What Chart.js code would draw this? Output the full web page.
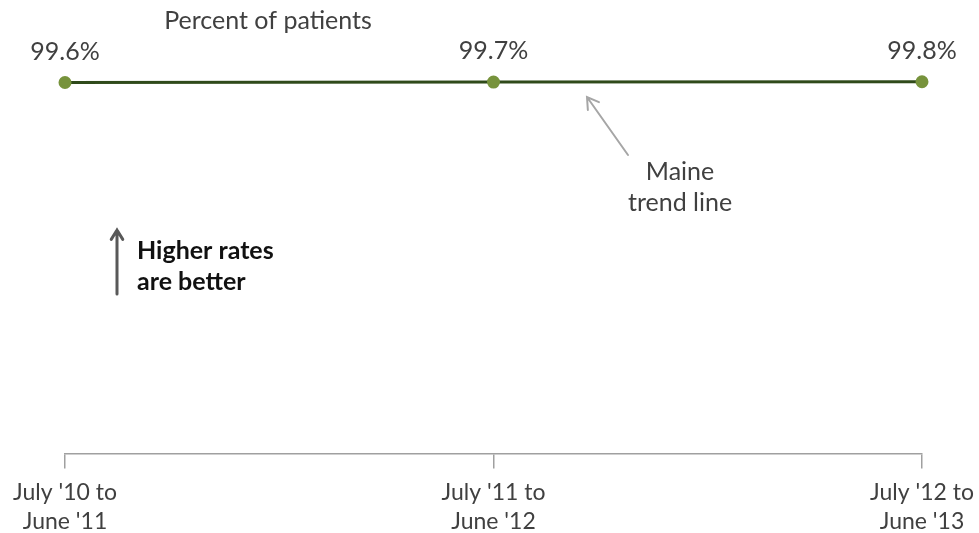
<!DOCTYPE html>
<html>
<head>
<meta charset="utf-8">
<script src="https://cdn.jsdelivr.net/npm/chart.js@4.4.0/dist/chart.umd.min.js"></script>
<style>
  html, body { margin: 0; padding: 0; background: #fff; }
  #wrap { width: 979px; height: 533px; position: relative; }
</style>
</head>
<body>
<div id="wrap"><canvas id="trendChart"></canvas></div>
<script>
// data
const periods = [["July '10 to", "June '11"], ["July '11 to", "June '12"], ["July '12 to", "June '13"]];
const maineRates = [99.6, 99.7, 99.8];
const valueLabels = ["99.6%", "99.7%", "99.8%"];

const FONT = "Lato, 'Open Sans', sans-serif";
const TEXT = '#404040';

function arrow(ctx, x1, y1, x2, y2, color, width, head) {
    ctx.save();
    ctx.strokeStyle = color;
    ctx.lineWidth = width;
    ctx.lineCap = 'round';
    ctx.beginPath();
    ctx.moveTo(x1, y1);
    ctx.lineTo(x2, y2);
    const a = Math.atan2(y2 - y1, x2 - x1);
    ctx.moveTo(x2 - head * Math.cos(a - 0.55), y2 - head * Math.sin(a - 0.55));
    ctx.lineTo(x2, y2);
    ctx.lineTo(x2 - head * Math.cos(a + 0.55), y2 - head * Math.sin(a + 0.55));
    ctx.stroke();
    ctx.restore();
}

const notes = {
    id: 'notes',
    afterDatasetsDraw(chart) {
        const ctx = chart.ctx;
        const meta = chart.getDatasetMeta(0);
        ctx.save();
        ctx.fillStyle = TEXT;
        ctx.textAlign = 'center';
        ctx.textBaseline = 'middle';
        ctx.font = '25px ' + FONT;
        // value labels above points
        meta.data.forEach((pt, i) => {
            ctx.fillText(valueLabels[i], pt.x, pt.y - 31);
        });
        ctx.fillText('Percent of patients', 268, 21);
        ctx.fillText('Maine', 680, 172);
        ctx.fillText('trend line', 680, 203);
        ctx.textAlign = 'left';
        ctx.fillStyle = '#111';
        ctx.font = 'bold 25px ' + FONT;
        ctx.fillText('Higher rates', 137, 251);
        ctx.fillText('are better', 137, 282);
        ctx.restore();

        arrow(ctx, 628, 155, 587, 97, '#a6a6a6', 2, 13);
        arrow(ctx, 117, 294, 117, 230, '#595959', 3, 11);
    }
};

new Chart(document.getElementById('trendChart'), {
    type: 'line',
    data: {
        labels: periods,
        datasets: [{
            data: maineRates,
            borderColor: '#2f4a1a',
            borderWidth: 3,
            pointBackgroundColor: '#77933c',
            pointBorderColor: '#77933c',
            pointRadius: 5,
            tension: 0,
            clip: false
        }]
    },
    options: {
        responsive: true,
        maintainAspectRatio: false,
        animation: false,
        layout: { padding: { left: 65, right: 57, top: 81, bottom: -13 } },
        plugins: { legend: { display: false }, tooltip: { enabled: false } },
        scales: {
            x: {
                offset: false,
                afterFit(scale) { scale.paddingLeft = 0; scale.paddingRight = 0; },
                border: { display: true, color: '#a0a0a0', width: 1.5 },
                grid: { drawOnChartArea: false, drawTicks: true, tickLength: 15, color: '#a0a0a0', lineWidth: 1.5 },
                ticks: { color: TEXT, font: { family: FONT, size: 23, lineHeight: 1.25 }, padding: 10, maxRotation: 0, autoSkip: false }
            },
            y: {
                display: false,
                min: 0,
                max: 100
            }
        }
    },
    plugins: [notes]
});
</script>
</body>
</html>
